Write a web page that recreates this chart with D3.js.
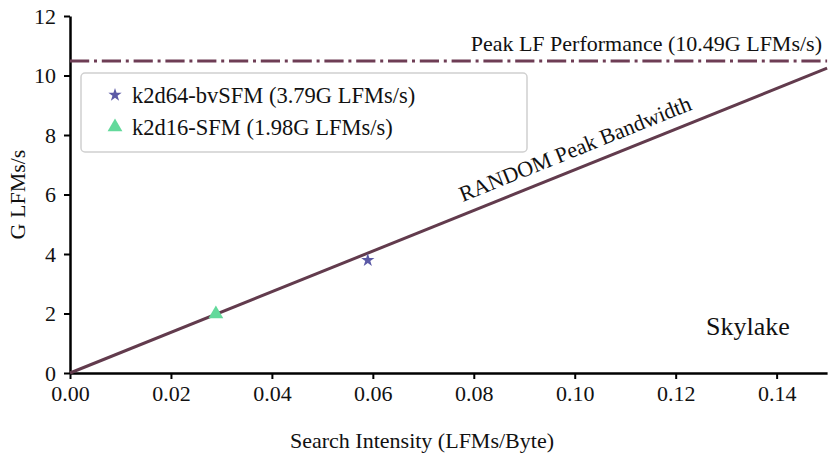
<!DOCTYPE html>
<html>
<head>
<meta charset="utf-8">
<script src="https://cdn.jsdelivr.net/npm/d3@7"></script>
<style>
  html, body { margin: 0; padding: 0; background: #fff; }
  svg { display: block; }
  text { font-family: "Liberation Serif", "Times New Roman", serif; fill: #111; }
</style>
</head>
<body>
<svg id="chart" width="828" height="454"></svg>
<script>
// Roofline model for Skylake
const kernels = ["k2d64-bvSFM", "k2d16-SFM"];
const intensity = [0.059, 0.0289];          // LFMs/Byte
const performance = [3.79, 1.98];           // G LFMs/s
const peakPerf = 10.49;                     // G LFMs/s
const peakBandwidth = 68.3;                 // GB/s (RANDOM access)
const xTicks = [0, 0.02, 0.04, 0.06, 0.08, 0.10, 0.12, 0.14];
const yTicks = [0, 2, 4, 6, 8, 10, 12];

const colors = { star: "#5b59a6", tri: "#63d99b", peak: "#6e3d55", bw: "#623b4d" };
const serif = "'Liberation Serif', 'Times New Roman', serif";

const svg = d3.select("#chart");
const x = d3.scaleLinear().domain([0, 0.15]).range([70, 827.1]);
const y = d3.scaleLinear().domain([0, 12]).range([373, 16]);

// axes
const xAxis = svg.append("g").attr("transform", `translate(0,${y(0)})`)
  .call(d3.axisBottom(x).tickValues(xTicks).tickFormat(d3.format(".2f")).tickSize(6).tickPadding(6).tickSizeOuter(0));
const yAxis = svg.append("g").attr("transform", `translate(${x(0)},0)`)
  .call(d3.axisLeft(y).tickValues(yTicks).tickFormat(d3.format("d")).tickSize(6).tickPadding(8).tickSizeOuter(0));
[xAxis, yAxis].forEach(g => {
  g.attr("font-family", serif).attr("font-size", 22);
  g.select(".domain").attr("stroke", "#000").attr("stroke-width", 2.5);
  g.selectAll(".tick line").attr("stroke", "#000").attr("stroke-width", 2);
  g.selectAll(".tick text").attr("fill", "#111");
});

// peak compute ceiling
svg.append("line")
  .attr("x1", x(0)).attr("x2", x(0.15))
  .attr("y1", y(peakPerf)).attr("y2", y(peakPerf))
  .attr("stroke", colors.peak).attr("stroke-width", 3)
  .attr("stroke-dasharray", "19.2,4.8,3,4.8");
svg.append("text")
  .attr("x", 822).attr("y", 51)
  .attr("text-anchor", "end").style("font-size", "22px")
  .text(`Peak LF Performance (${peakPerf}G LFMs/s)`);

// memory bandwidth roof
const bw = [0, 0.15].map(v => [x(v), y(v * peakBandwidth)]);
svg.append("line")
  .attr("x1", bw[0][0]).attr("y1", bw[0][1])
  .attr("x2", bw[1][0]).attr("y2", bw[1][1])
  .attr("stroke", colors.bw).attr("stroke-width", 3);
const ang = Math.atan2(bw[1][1] - bw[0][1], bw[1][0] - bw[0][0]) * 180 / Math.PI;
const lx = 0.0787;
svg.append("text")
  .attr("transform", `translate(${x(lx)},${y(lx * peakBandwidth)}) rotate(${ang})`)
  .attr("y", -12).style("font-size", "22px")
  .text("RANDOM Peak Bandwidth");

// measured kernels
const symbols = [d3.symbol().type(d3.symbolStar).size(55), d3.symbol().type(d3.symbolTriangle).size(95)];
const fills = [colors.star, colors.tri];
svg.selectAll("path.pt").data(kernels).join("path")
  .attr("class", "pt")
  .attr("transform", (d, i) => `translate(${x(intensity[i])},${y(performance[i])})`)
  .attr("d", (d, i) => symbols[i]())
  .attr("fill", (d, i) => fills[i]);

// legend
const lg = svg.append("g");
lg.append("rect")
  .attr("x", 81).attr("y", 73).attr("width", 446).attr("height", 79).attr("rx", 4)
  .attr("fill", "#fff").attr("fill-opacity", 0.8)
  .attr("stroke", "#d0d0d0").attr("stroke-width", 1.5);
kernels.forEach((k, i) => {
  const cy = 95 + i * 32;
  lg.append("path").attr("transform", `translate(115,${cy})`).attr("d", symbols[i]()).attr("fill", fills[i]);
  lg.append("text").attr("x", 132).attr("y", cy + 8).style("font-size", "22.5px")
    .text(`${k} (${performance[i]}G LFMs/s)`);
});

// labels
svg.append("text").attr("x", 706).attr("y", 335).style("font-size", "26px").text("Skylake");
svg.append("text").attr("x", 422).attr("y", 448).attr("text-anchor", "middle").style("font-size", "22px")
  .text("Search Intensity (LFMs/Byte)");
svg.append("text").attr("transform", `translate(25,${(y(0) + y(12)) / 2}) rotate(-90)`)
  .attr("text-anchor", "middle").style("font-size", "22px").text("G LFMs/s");
</script>
</body>
</html>
